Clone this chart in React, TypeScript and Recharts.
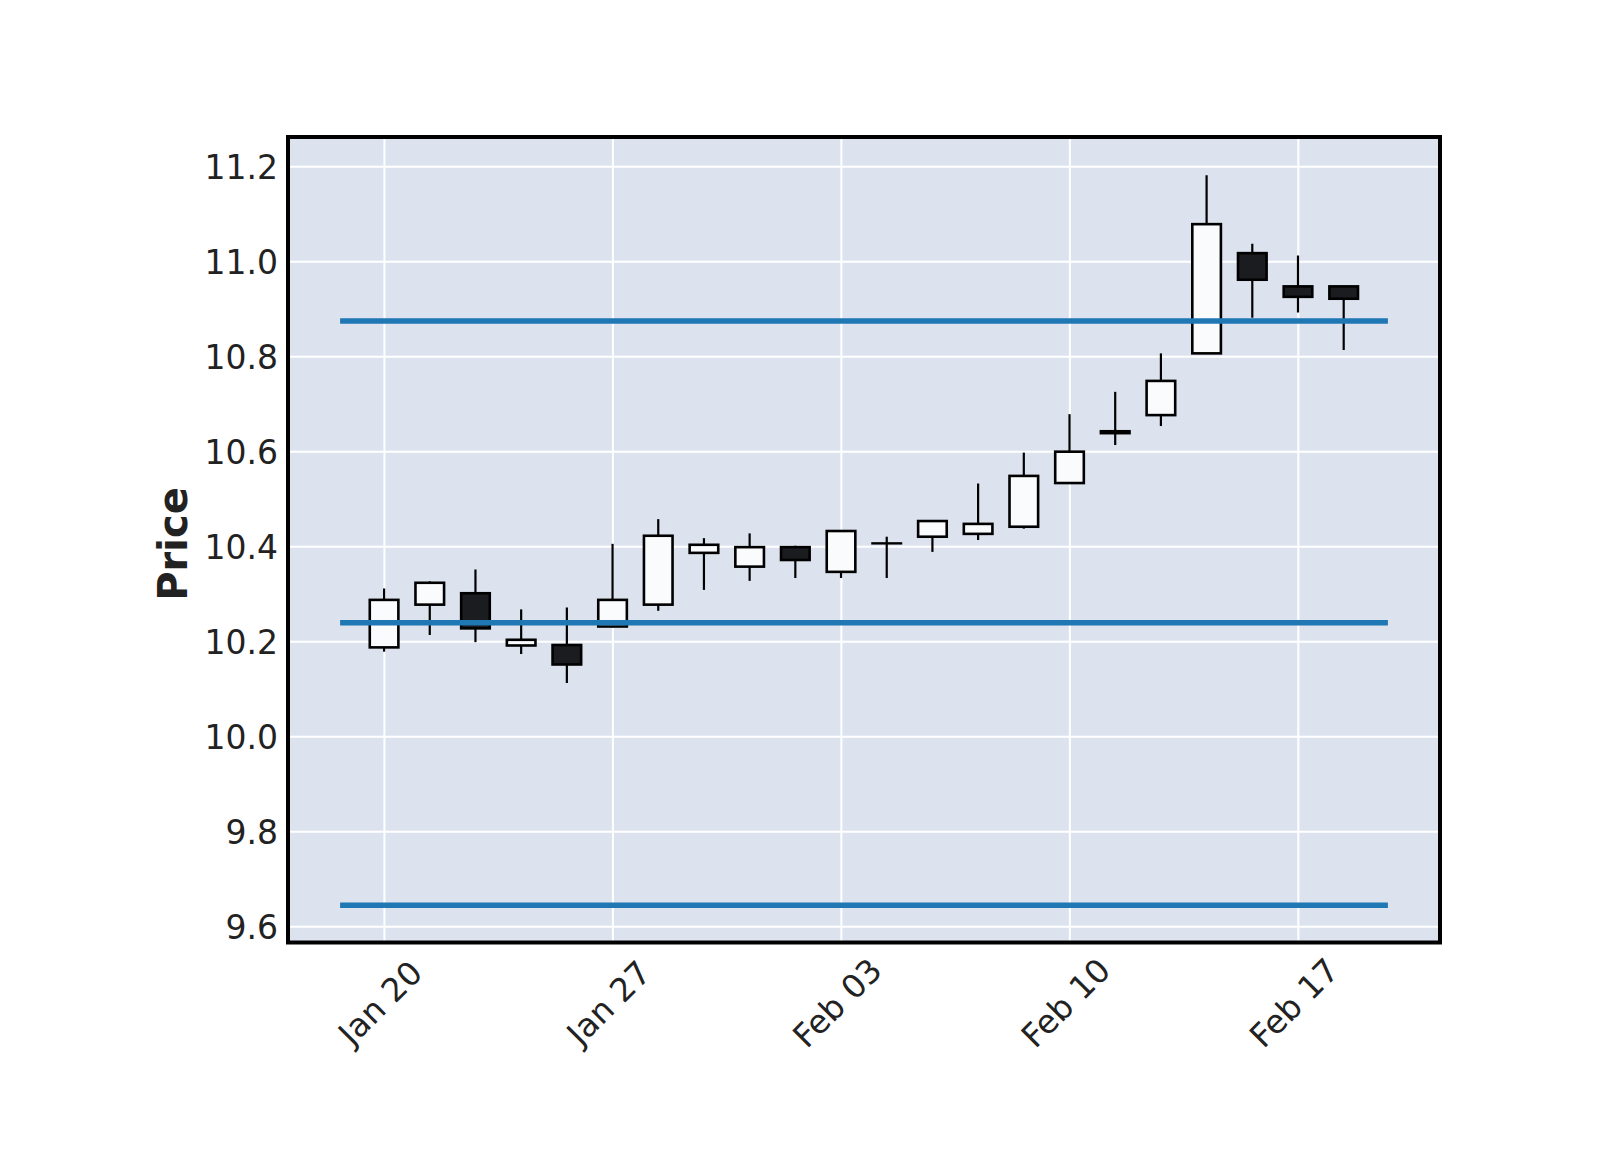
import React from "react";
import {
  ComposedChart,
  Bar,
  XAxis,
  YAxis,
  CartesianGrid,
  ReferenceLine,
  ReferenceArea,
} from "recharts";

// trading days only (weekends skipped), x axis runs on the day index
const dates = [
  "Jan 20", "Jan 21", "Jan 22", "Jan 23", "Jan 24",
  "Jan 27", "Jan 28", "Jan 29", "Jan 30", "Jan 31",
  "Feb 03", "Feb 04", "Feb 05", "Feb 06", "Feb 07",
  "Feb 10", "Feb 11", "Feb 12", "Feb 13", "Feb 14",
  "Feb 17", "Feb 18",
];
const opens = [
  10.188, 10.278, 10.302, 10.192, 10.193, 10.232, 10.278, 10.387, 10.358, 10.399, 10.347,
  10.407, 10.421, 10.427, 10.442, 10.534, 10.639, 10.677, 10.807, 11.018, 10.948, 10.948,
];
const closes = [
  10.288, 10.324, 10.228, 10.204, 10.152, 10.288, 10.423, 10.404, 10.399, 10.372, 10.433,
  10.407, 10.454, 10.448, 10.549, 10.6, 10.643, 10.749, 11.079, 10.962, 10.926, 10.922,
];
const highs = [
  10.312, 10.327, 10.352, 10.268, 10.272, 10.406, 10.458, 10.418, 10.428, 10.402, 10.433,
  10.421, 10.454, 10.533, 10.598, 10.679, 10.726, 10.807, 11.182, 11.038, 11.013, 10.948,
];
const lows = [
  10.179, 10.214, 10.199, 10.174, 10.113, 10.23, 10.265, 10.309, 10.328, 10.334, 10.334,
  10.334, 10.389, 10.414, 10.438, 10.534, 10.614, 10.654, 10.807, 10.882, 10.893, 10.814,
];
const levels = [10.875, 10.24, 9.645];
const xTicks = [0, 5, 10, 15, 20];
const yTicks = [9.6, 9.8, 10.0, 10.2, 10.4, 10.6, 10.8, 11.0, 11.2];

const X_DOMAIN: [number, number] = [-2.11, 23.1];
const Y_DOMAIN: [number, number] = [9.5667, 11.2625];
const LEVEL_SPAN: [number, number] = [-0.97, 21.96];

const data = dates.map((d, i) => ({
  idx: i,
  date: d,
  open: opens[i],
  close: closes[i],
  high: highs[i],
  low: lows[i],
}));

const FONT = "'DejaVu Sans', sans-serif";
const TEXT = "#222";

function Candle(props: any) {
  const { x, y, width, height, payload } = props;
  if (!payload) return null;
  const { open, close, high, low } = payload;
  const top = Math.min(y, y + height);
  const h = Math.abs(height);
  const span = high - low;
  // map price -> pixel inside the bar's own [low, high] range
  const py = (v: number) => (span === 0 ? top : top + ((high - v) / span) * h);
  const cx = x + width / 2;
  const up = close >= open;
  const bTop = py(Math.max(open, close));
  const bBot = py(Math.min(open, close));
  return (
    <g>
      <line x1={cx} x2={cx} y1={top} y2={top + h} stroke="#000" strokeWidth={2.2} />
      {bBot - bTop < 1 ? (
        // doji: open == close, drawn as a flat line
        <line x1={x} x2={x + width} y1={bTop} y2={bTop} stroke="#000" strokeWidth={2.4} />
      ) : (
        <rect
          x={x + 1.2}
          y={bTop}
          width={width - 2.4}
          height={bBot - bTop}
          fill={up ? "#f9fbfd" : "#1b1c1f"}
          stroke="#000"
          strokeWidth={2.6}
        />
      )}
    </g>
  );
}

function XTick({ x, y, payload }: any) {
  const cx = x - 3;
  const cy = 1004;
  return (
    <text
      x={cx}
      y={cy}
      dy="0.3em"
      textAnchor="middle"
      fontFamily={FONT}
      fontSize={32.5}
      fill={TEXT}
      transform={`rotate(-45 ${cx} ${cy})`}
    >
      {dates[payload.value]}
    </text>
  );
}

function YTick({ x, y, payload }: any) {
  return (
    <text
      x={x - 10}
      y={y}
      dy="0.36em"
      textAnchor="end"
      fontFamily={FONT}
      fontSize={33}
      fill={TEXT}
    >
      {payload.value.toFixed(1)}
    </text>
  );
}

function PriceLabel() {
  return (
    <text
      x={173}
      y={544}
      textAnchor="middle"
      dominantBaseline="central"
      fontFamily={FONT}
      fontWeight="bold"
      fontSize={40}
      fill={TEXT}
      transform="rotate(-90 173 544)"
    >
      Price
    </text>
  );
}

export default function App() {
  return (
    <div style={{ position: "absolute", left: 0, top: 0, width: 1600, height: 1150, background: "#fff" }}>
      <ComposedChart
        width={1600}
        height={1150}
        data={data}
        margin={{ top: 137, right: 160, bottom: 107.5, left: 188 }}
      >
        <CartesianGrid stroke="#fff" strokeWidth={2} fill="#dce3ef" fillOpacity={1} />
        <XAxis
          dataKey="idx"
          type="number"
          domain={X_DOMAIN}
          ticks={xTicks}
          allowDataOverflow
          axisLine={false}
          tickLine={false}
          tickSize={0}
          height={100}
          tick={<XTick />}
        />
        <YAxis
          type="number"
          domain={Y_DOMAIN}
          ticks={yTicks}
          allowDataOverflow
          axisLine={false}
          tickLine={false}
          tickSize={0}
          tickMargin={0}
          width={100}
          tick={<YTick />}
          label={<PriceLabel />}
        />
        <Bar
          dataKey={(d: any) => [d.low, d.high]}
          barSize={31}
          shape={<Candle />}
          isAnimationActive={false}
        />
        {levels.map((v) => (
          <ReferenceLine
            key={v}
            segment={[
              { x: LEVEL_SPAN[0], y: v },
              { x: LEVEL_SPAN[1], y: v },
            ]}
            stroke="#1f77b4"
            strokeWidth={5.5}
          />
        ))}
        <ReferenceArea
          x1={X_DOMAIN[0]}
          x2={X_DOMAIN[1]}
          y1={Y_DOMAIN[0]}
          y2={Y_DOMAIN[1]}
          fill="none"
          stroke="#000"
          strokeWidth={4}
          ifOverflow="visible"
        />
      </ComposedChart>
    </div>
  );
}
